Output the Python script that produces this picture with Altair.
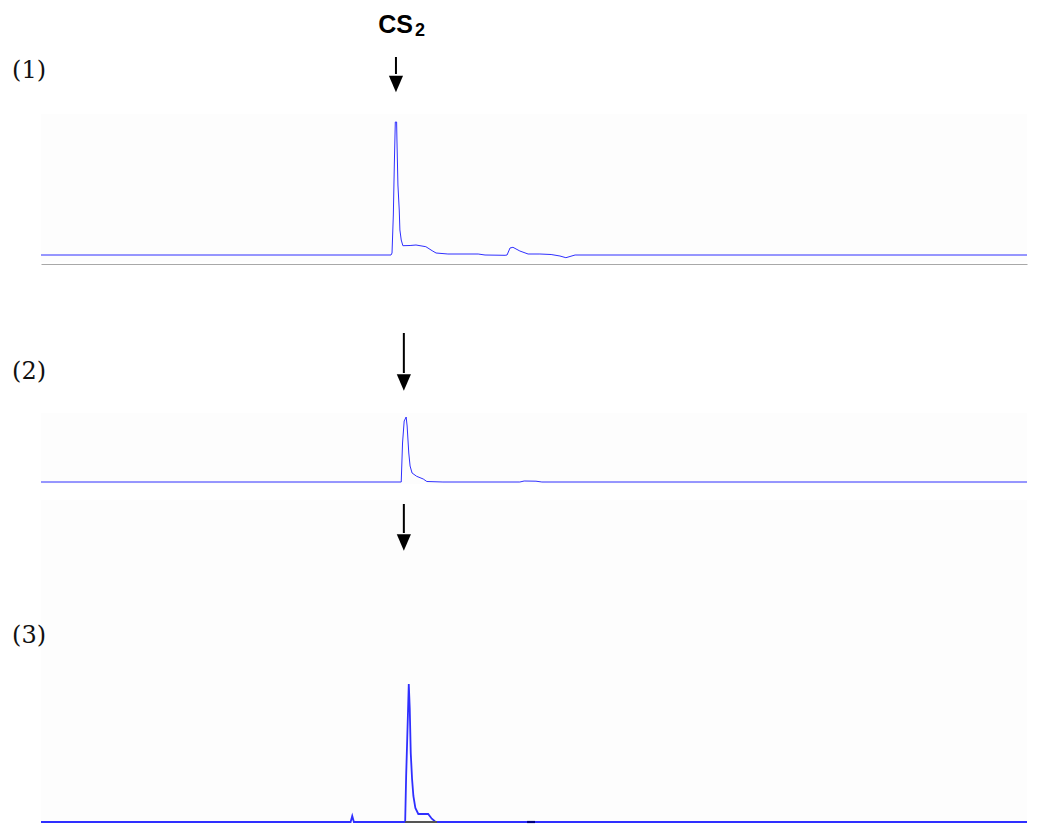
import altair as alt
import pandas as pd

# ---- data (retention time in min, detector response) ----
t1 = [0.00, 10.65, 10.68, 10.72, 10.75, 10.78, 10.82, 10.83, 10.86, 10.90, 10.92, 10.96,
      11.01, 11.23, 11.41, 11.71, 11.90, 12.02, 12.38, 13.30, 13.51, 14.12, 14.18, 14.27,
      14.36, 14.57, 14.82, 15.18, 15.52, 15.79, 15.97, 16.25, 30.00]
s1 = [0.0, 0.0, 2.0, 40.0, 90.0, 133.0, 133.0, 115.0, 70.0, 45.0, 25.0, 15.0,
      9.3, 9.5, 10.0, 8.3, 4.3, 2.0, 1.0, 1.0, 0.0, -0.3, 0.0, 7.0,
      7.7, 4.0, 1.0, 1.0, 0.5, -1.0, -2.7, 0.0, 0.0]

t2 = [0.00, 10.96, 11.00, 11.05, 11.11, 11.14, 11.19, 11.23, 11.29, 11.43, 11.63, 11.74,
      12.23, 14.57, 14.70, 15.06, 15.24, 30.00]
s2 = [0.0, 0.0, 39.0, 61.0, 65.0, 56.0, 29.0, 16.0, 9.0, 5.7, 3.0, 0.5,
      0.0, 0.0, 1.0, 0.8, 0.0, 0.0]

t3 = [0.00, 9.42, 9.47, 9.52, 11.08, 11.11, 11.16, 11.19, 11.22, 11.25, 11.29, 11.33,
      11.39, 11.48, 11.78, 11.89, 11.99, 12.05, 30.00]
s3 = [0.0, 0.0, 6.0, 0.0, 0.0, 46.0, 103.0, 138.0, 113.0, 69.0, 43.0, 26.0,
      14.0, 8.0, 8.0, 3.3, 0.5, 0.0, 0.0]

# integration marks on trace (3)
mark_start = [11.08, 14.79]
mark_end = [12.05, 15.03]
mark_color = ["#555555", "#000080"]

labels = ["(1)", "(2)", "(3)"]
peak_times = [10.80, 11.04, 11.04]   # CS2 arrows
compound = "CS"
compound_sub = "2"

XDOM = [0, 30]
W = 986
LINE = "#2f2fff"
BG = "#fdfdfd"

x_enc = alt.X("t:Q", scale=alt.Scale(domain=XDOM, nice=False, zero=False), axis=None)


def panel(t, s, height, ydom, label, label_y, arrow_t, shaft_top, shaft_bot, head_y,
          bg_top, bg_bot, width_line=1.0, bottom_axis=False, extra=None, pre=None):
    df = pd.DataFrame({"t": t, "s": s})
    yscale = alt.Scale(domain=ydom, nice=False, zero=False)
    if bottom_axis:
        xe = alt.X("t:Q", scale=alt.Scale(domain=XDOM, nice=False, zero=False),
                   axis=alt.Axis(labels=False, ticks=False, grid=False, title=None,
                                 domain=True, domainColor="#a8a8a8", domainWidth=1.2))
    else:
        xe = x_enc
    bg = alt.Chart(pd.DataFrame({"a": [0]})).mark_rect(color=BG).encode(
        x=alt.value(0), x2=alt.value(W), y=alt.value(bg_top), y2=alt.value(bg_bot))
    line = alt.Chart(df).mark_line(color=LINE, strokeWidth=width_line,
                                   interpolate="linear").encode(
        x=xe, y=alt.Y("s:Q", scale=yscale, axis=None))
    ann = pd.DataFrame({"t": [arrow_t], "y1": [shaft_top], "y2": [shaft_bot], "yh": [head_y]})
    shaft = alt.Chart(ann).mark_rule(color="black", strokeWidth=2).encode(
        x="t:Q", y=alt.Y("y1:Q", scale=yscale), y2="y2:Q")
    head = alt.Chart(ann).mark_point(
        shape="M-1,-1.15L1,-1.15L0,1.15Z", filled=True, color="black", opacity=1,
        size=200, strokeWidth=0).encode(x="t:Q", y=alt.Y("yh:Q", scale=yscale))
    lab = alt.Chart(pd.DataFrame({"txt": [label], "t": [-0.88], "y": [label_y]})).mark_text(
        font="DejaVu Serif", fontSize=24, align="left", baseline="middle",
        color="#111111").encode(x="t:Q", y=alt.Y("y:Q", scale=yscale), text="txt:N")
    layers = []
    if pre is not None:
        layers.append(pre)
    layers += [bg, line, shaft, head, lab]
    if extra is not None:
        layers += extra(yscale)
    return alt.layer(*layers).properties(width=W, height=height)


def cs2(yscale):
    d = pd.DataFrame({"t": [11.32], "y": [222.0], "txt": [compound]})
    d2 = pd.DataFrame({"t": [11.38], "y": [219.0], "txt": [compound_sub]})
    a = alt.Chart(d).mark_text(font="Liberation Sans", fontWeight="bold", fontSize=25,
                               align="right", baseline="alphabetic", color="black").encode(
        x="t:Q", y=alt.Y("y:Q", scale=yscale), text="txt:N")
    b = alt.Chart(d2).mark_text(font="Liberation Sans", fontWeight="bold", fontSize=18,
                                align="left", baseline="alphabetic", color="black").encode(
        x="t:Q", y=alt.Y("y:Q", scale=yscale), text="txt:N")
    return [a, b]


def marks3(yscale):
    d = pd.DataFrame({"a": mark_start, "b": mark_end, "c": mark_color, "y": [0.0, 0.0]})
    r = alt.Chart(d).mark_rule(strokeWidth=2.2).encode(
        x="a:Q", x2="b:Q", y=alt.Y("y:Q", scale=yscale),
        color=alt.Color("c:N", scale=None))
    return [r]


# white frame that fixes the top-left corner of the page layout
frame = alt.Chart(pd.DataFrame({"a": [0]})).mark_rect(color="white").encode(
    x=alt.value(-33), x2=alt.value(0), y=alt.value(-106), y2=alt.value(0))

p1 = panel(t1, s1, 150, [-9, 141], labels[0], 184, peak_times[0], 198, 181, 171,
           0, 148, width_line=1.0, bottom_axis=True, extra=cs2, pre=frame)
p2 = panel(t2, s2, 233, [-15, 218], labels[1], 110, peak_times[1], 149, 109, 99.5,
           149, 220, width_line=1.0)
p3 = panel(t3, s3, 326, [-1, 325], labels[2], 186, peak_times[2], 318, 289, 279.5,
           3, 325, width_line=1.8, extra=marks3)

chart = alt.vconcat(p1, p2, p3, spacing=0, bounds="flush").properties(
    padding=0,
    background="white",
).configure_view(stroke=None)

chart.save("out.html", embed_options={"renderer": "svg", "actions": False})
